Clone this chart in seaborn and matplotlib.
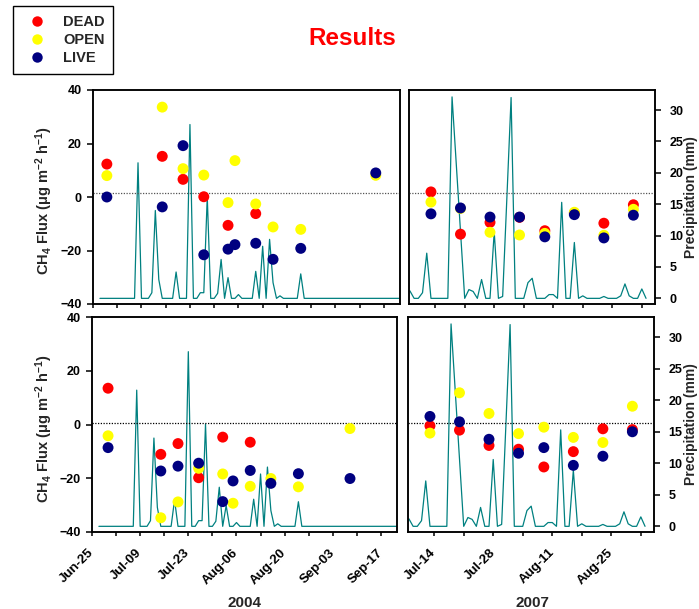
import pandas as pd
import seaborn as sns
import matplotlib.pyplot as plt
from matplotlib.lines import Line2D

# sites and colours
sites = ['DEAD', 'OPEN', 'LIVE']
site_colors = ['#ff0000', '#ffff00', '#000080']
teal = '#008080'

# 2004 chamber data, upper panel
dates_2004_top = ['2004-06-29 00:00', '2004-07-15 00:00', '2004-07-21 00:00', '2004-07-27 00:00', '2004-08-03 00:00',
                  '2004-08-05 00:00', '2004-08-11 00:00', '2004-08-16 00:00', '2004-08-24 00:00', '2004-09-14 16:00']
dead_2004_top = [12.3, 15.2, 6.6, 0.1, -10.6, None, -6.2, None, None, None]
open_2004_top = [8.0, 33.6, 10.6, 8.2, -2.1, 13.6, -2.6, -11.2, -12.1, 8.1]
live_2004_top = [0.0, -3.7, 19.2, -21.6, -19.5, -17.8, -17.3, -23.3, -19.2, 9.0]

# 2004 chamber data, lower panel
dates_2004_bot = ['2004-06-29 16:00', '2004-07-15 00:00', '2004-07-20 00:00', '2004-07-26 00:00', '2004-08-02 00:00',
                  '2004-08-05 00:00', '2004-08-10 00:00', '2004-08-16 00:00', '2004-08-24 00:00', '2004-09-08 00:00']
dead_2004_bot = [13.5, -11.1, -7.1, -19.8, -4.7, None, -6.6, None, None, None]
open_2004_bot = [-4.2, -34.7, -28.8, -16.3, -18.4, -29.3, -23.0, -20.1, -23.2, -1.5]
live_2004_bot = [-8.6, -17.3, -15.5, -14.4, -28.7, -21.0, -17.1, -21.9, -18.3, -20.1]

# 2007 chamber data
dates_2007 = ['2007-07-13', '2007-07-20', '2007-07-27', '2007-08-03',
              '2007-08-09', '2007-08-16', '2007-08-23', '2007-08-30']
dead_2007_top = [1.9, -13.9, -9.5, -7.6, -12.6, -6.0, -9.8, -2.9]
open_2007_top = [-1.9, -4.3, -13.2, -14.2, -13.6, -5.7, -14.3, -4.6]
live_2007_top = [-6.3, -4.1, -7.5, -7.5, -14.9, -6.6, -15.3, -6.8]
dead_2007_bot = [-0.5, -2.1, -7.8, -9.2, -15.8, -10.1, -1.6, -1.9]
open_2007_bot = [-3.2, 11.8, 4.1, -3.4, -1.0, -4.8, -6.7, 6.8]
live_2007_bot = [3.0, 1.0, -5.5, -10.7, -8.6, -15.2, -11.8, -2.7]

# daily precipitation (mm)
precip_2004_start = '2004-06-27'
precip_2004 = [0, 0, 0, 0, 0, 0, 0, 0, 0, 0, 0,
               21.6, 0, 0, 0, 0.9, 14.0, 3.0, 0, 0, 0, 0,
               4.2, 0, 0, 0, 27.7, 0, 0, 0.9, 0.9, 16.2, 0, 0,
               0.8, 6.2, 0, 3.3, 0, 0, 0.6, 0, 0, 0, 0,
               4.3, 0, 8.3, 0, 9.4, 2.5, 0, 0.4, 0, 0, 0, 0, 0,
               3.9, 0, 0, 0, 0, 0, 0, 0, 0, 0, 0,
               0, 0, 0, 0, 0, 0, 0, 0, 0, 0,
               0, 0, 0, 0, 0, 0, 0, 0, 0]
precip_2007_start = '2007-07-08'
precip_2007 = [1.2, 0, 0, 0.9, 7.2, 0,
               0, 0, 0, 0, 32.1, 21.4, 10.7, 0, 1.4, 1.1, 0, 3.0, 0, 0,
               10.6, 0, 0.3, 16.0, 32.0, 0, 0, 0, 2.5, 3.2,
               0, 0, 0, 0.6, 0.6, 0, 15.3, 0, 0, 8.9,
               0, 0.4, 0, 0, 0, 0, 0.3, 0, 0, 0,
               0.4, 2.3, 0.4, 0, 0, 1.5, 0]

ticks_2004 = pd.date_range('2004-06-25', periods=13, freq='7D')
ticks_2007 = pd.date_range('2007-07-14', periods=8, freq='7D')
xlim_2004 = (pd.Timestamp('2004-06-25'), pd.Timestamp('2004-09-21 16:00'))
xlim_2007 = (pd.Timestamp('2007-07-07 19:00'), pd.Timestamp('2007-09-04 03:00'))

sns.set_style('ticks', {'axes.edgecolor': 'black', 'xtick.color': 'black', 'ytick.color': 'black'})
plt.rcParams['font.family'] = ['Liberation Sans', 'DejaVu Sans']
plt.rcParams['font.weight'] = 'bold'
plt.rcParams['axes.linewidth'] = 1.1
plt.rcParams['mathtext.fontset'] = 'custom'
plt.rcParams['mathtext.rm'] = 'Liberation Sans:bold'
plt.rcParams['mathtext.bf'] = 'Liberation Sans:bold'
plt.rcParams['mathtext.it'] = 'Liberation Sans:bold'
plt.rcParams['mathtext.default'] = 'bf'

W, H = 699, 609
fig = plt.figure(figsize=(W / 100, H / 100), dpi=100)


def box(l, t, r, b):
    return [l / W, 1 - b / H, (r - l) / W, (b - t) / H]


def draw_panel(ax, dates, dead, opn, live, p_start, precip, xlim, ticks, dot_y, dot_col, left, bottom):
    df = pd.DataFrame({'date': pd.to_datetime(dates, format='ISO8601'),
                       'DEAD': dead, 'OPEN': opn, 'LIVE': live})
    df = df.melt(id_vars='date', var_name='site', value_name='flux').dropna()
    p_dates = pd.date_range(p_start, periods=len(precip), freq='D')

    ax2 = ax.twinx()
    sns.lineplot(x=p_dates, y=precip, ax=ax2, color=teal, linewidth=0.9)
    ax.axhline(dot_y, color=dot_col, linestyle=(0, (1, 1.2)), linewidth=0.9, zorder=1)
    sns.scatterplot(data=df, x='date', y='flux', hue='site', hue_order=sites,
                    palette=dict(zip(sites, site_colors)), s=62, linewidth=0,
                    legend=False, ax=ax, zorder=3)
    ax.set_zorder(ax2.get_zorder() + 1)
    ax.patch.set_visible(False)

    ax.set_ylim(-40, 40)
    ax2.set_ylim(-0.9, 33.2)
    ax.set_xlim(xlim)
    ax.set_xlabel('')
    ax.set_ylabel('')
    ax2.set_ylabel('')
    ax.set_xticks(ticks)
    if bottom:
        labels = [t.strftime('%b-%d') if i % 2 == 0 else '' for i, t in enumerate(ticks)]
        ax.set_xticklabels(labels, rotation=45, ha='right', va='center',
                           rotation_mode='anchor', fontsize=9.5, fontweight='bold')
    else:
        ax.set_xticklabels([])
    ax.tick_params(axis='x', length=3, width=1.1, pad=10.5)
    if left:
        ax.set_yticks([-40, -20, 0, 20, 40])
        ax.tick_params(axis='y', length=4.5, width=1.1, pad=3.5, labelsize=9)
        ax2.set_yticks([])
    else:
        ax.set_yticks([])
        ax2.set_yticks([0, 5, 10, 15, 20, 25, 30])
        ax2.tick_params(axis='y', length=4, width=1.1, pad=6.5, labelsize=9)
    for lab in ax.get_yticklabels() + ax2.get_yticklabels():
        lab.set_fontweight('bold')
    return ax2


ax_tl = fig.add_axes(box(93, 90, 400, 304))
ax_tr = fig.add_axes(box(409, 90, 655, 304))
ax_bl = fig.add_axes(box(92, 317, 397, 532))
ax_br = fig.add_axes(box(408, 317, 654, 532))

draw_panel(ax_tl, dates_2004_top, dead_2004_top, open_2004_top, live_2004_top,
           precip_2004_start, precip_2004, xlim_2004, ticks_2004, 1.5, '#555555', True, False)
draw_panel(ax_tr, dates_2007, dead_2007_top, open_2007_top, live_2007_top,
           precip_2007_start, precip_2007, xlim_2007, ticks_2007, 1.5, '#555555', False, False)
draw_panel(ax_bl, dates_2004_bot, dead_2004_bot, open_2004_bot, live_2004_bot,
           precip_2004_start, precip_2004, xlim_2004, ticks_2004, 0.5, 'black', True, True)
draw_panel(ax_br, dates_2007, dead_2007_bot, open_2007_bot, live_2007_bot,
           precip_2007_start, precip_2007, xlim_2007, ticks_2007, 0.5, 'black', False, True)

flux_label = r'CH$_4$ Flux ($\mu$g m$^{-2}$ h$^{-1}$)'
fig.text(44.5 / W, 1 - 201 / H, flux_label, rotation=90, ha='center', va='center', fontsize=10.5)
fig.text(44.5 / W, 1 - 429 / H, flux_label, rotation=90, ha='center', va='center', fontsize=10.5)
fig.text(691.5 / W, 1 - 197 / H, 'Precipitation (mm)', rotation=90, ha='center', va='center', fontsize=10)
fig.text(691.5 / W, 1 - 424.5 / H, 'Precipitation (mm)', rotation=90, ha='center', va='center', fontsize=10)

fig.text(352.5 / W, 1 - 45 / H, 'Results', color='#ff0000', fontsize=17.5, ha='center', va='baseline')
fig.text(245 / W, 1 - 607 / H, '2004', fontsize=11, ha='center', va='baseline')
fig.text(532 / W, 1 - 607 / H, '2007', fontsize=11, ha='center', va='baseline')

handles = [Line2D([], [], marker='o', linestyle='', color=c, markersize=7.5, markeredgewidth=0)
           for c in site_colors]
leg = fig.legend(handles, sites, loc='upper left', bbox_to_anchor=(13 / W, 1 - 6 / H),
                 frameon=True, fancybox=False, edgecolor='black', framealpha=1,
                 prop={'weight': 'bold', 'size': 10.5}, borderaxespad=0, borderpad=0.6,
                 handlelength=2.08, handletextpad=0.74, labelspacing=0.3)
leg.get_frame().set_linewidth(1.0)

fig.savefig('out.png', dpi=100)
